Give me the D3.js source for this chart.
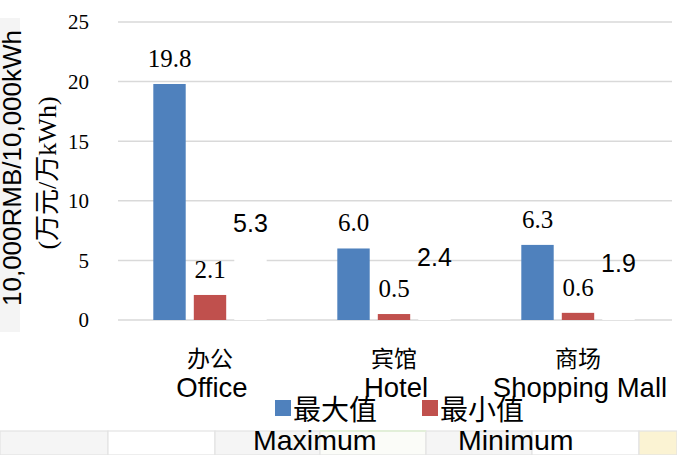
<!DOCTYPE html>
<html><head><meta charset="utf-8">
<script src="https://cdn.jsdelivr.net/npm/d3@7/dist/d3.min.js"></script>
<style>body{margin:0;background:#fff;}svg{display:block;}</style>
</head><body>
<svg id="c" width="677" height="455"></svg>
<script>
const categoriesCn = ["办公", "宾馆", "商场"];
const categoriesEn = ["Office", "Hotel", "Shopping Mall"];
const maxValues = [19.8, 6.0, 6.3];
const minValues = [2.1, 0.5, 0.6];
const ratioValues = [5.3, 2.4, 1.9];
const yTicks = [0, 5, 10, 15, 20, 25];
const seriesKeys = ["max", "min", "ratio"];
const legendCn = ["最大值", "最小值"];
const legendEn = ["Maximum", "Minimum"];
const colors = {max: "#4f81bd", min: "#c0504d", ratio: "#ffffff"};

const svg = d3.select("#c");

// background spreadsheet cells at bottom
const cells = [[0,108,"#f5f5f5"],[108,215,"#ffffff"],[215,320,"#f5f5f5"],[320,426,"#fbfcf8"],[426,532,"#f5f5f5"],[532,639,"#ffffff"],[639,677,"#fbf3d3"]];
svg.selectAll("rect.cell").data(cells).join("rect")
  .attr("x", d => d[0]).attr("y", 431).attr("width", d => d[1]-d[0]).attr("height", 24)
  .attr("fill", d => d[2]).attr("stroke", "#e3e3e3").attr("stroke-width", 1.2);
svg.append("line").attr("x1",320).attr("x2",426).attr("y1",431).attr("y2",431).attr("stroke","#e2efd9").attr("stroke-width",2);
// left gray strip behind axis title
svg.append("rect").attr("x",0).attr("y",18).attr("width",20).attr("height",314).attr("fill","#f4f4f4");

const x0 = d3.scaleBand().domain(categoriesEn).range([118, 670]).padding(0);
const x1 = d3.scaleBand().domain(seriesKeys).range([0, x0.bandwidth()]).paddingInner(0.2).paddingOuter(0.872);
const y = d3.scaleLinear().domain([0, 25]).range([320, 22]);

// gridlines
svg.append("g").selectAll("line").data(yTicks).join("line")
  .attr("x1", 118).attr("x2", 672)
  .attr("y1", d => y(d)).attr("y2", d => y(d))
  .attr("stroke", "#d9d9d9").attr("stroke-width", 1.5);

// y tick labels
const yAxis = d3.axisLeft(y).tickValues(yTicks).tickSize(0).tickPadding(0).tickFormat(d3.format("d"));
const ga = svg.append("g").attr("transform", "translate(89,0)").call(yAxis);
ga.select(".domain").remove();
ga.selectAll("text").attr("font-family", "'Liberation Serif','Times New Roman',serif").attr("font-size", 21).attr("fill", "#000").attr("dy", "0.33em");

// data
const rows = categoriesEn.map((c, i) => ({cat: c, max: maxValues[i], min: minValues[i], ratio: ratioValues[i]}));

const groups = svg.append("g").selectAll("g").data(rows).join("g")
  .attr("transform", d => `translate(${x0(d.cat)},0)`);

groups.selectAll("rect").data(d => seriesKeys.map(k => ({k, v: d[k]}))).join("rect")
  .attr("x", d => x1(d.k)).attr("width", x1.bandwidth())
  .attr("y", d => y(d.v)).attr("height", d => y(0) - y(d.v))
  .attr("fill", d => colors[d.k]);

groups.selectAll("text").data(d => seriesKeys.map(k => ({k, v: d[k]}))).join("text")
  .attr("x", d => x1(d.k) + x1.bandwidth() / 2)
  .attr("y", d => y(d.v) - (d.k === "ratio" ? 25 : 17))
  .attr("text-anchor", "middle")
  .attr("font-family", d => d.k === "ratio" ? "'Liberation Sans',Arial,sans-serif" : "'Liberation Serif','Times New Roman',serif")
  .attr("font-size", 25)
  .attr("fill", "#000")
  .text(d => d3.format(".1f")(d.v));

// category labels
const cl = svg.append("g");
cl.selectAll("text.cn").data(categoriesCn).join("text").attr("class","cn")
  .attr("x", (d, i) => x0(categoriesEn[i]) + x0.bandwidth() / 2).attr("y", 367)
  .attr("text-anchor", "middle").attr("font-family", "'Noto Sans CJK SC',sans-serif").attr("font-size", 23).attr("fill", "#000")
  .text(d => d);
cl.selectAll("text.en").data(categoriesEn).join("text").attr("class","en")
  .attr("x", d => x0(d) + x0.bandwidth() / 2 + 2).attr("y", 397)
  .attr("text-anchor", "middle").attr("font-family", "'Liberation Sans',Arial,sans-serif").attr("font-size", 27.5).attr("fill", "#000")
  .text(d => d);

// axis title
svg.append("text").attr("transform", "translate(21,168) rotate(-90)")
  .attr("text-anchor", "middle").attr("font-family", "'Liberation Sans',Arial,sans-serif").attr("font-size", 26).attr("fill", "#000")
  .text("10,000RMB/10,000kWh");
svg.append("text").attr("transform", "translate(56,173) rotate(-90)")
  .attr("text-anchor", "middle").attr("font-family", "'Liberation Serif','Noto Sans CJK SC',serif").attr("font-size", 26).attr("fill", "#000")
  .text("(万元/万kWh)");

// legend
const legendX = [275, 422];
const lg = svg.append("g");
lg.selectAll("rect").data(["max", "min"]).join("rect")
  .attr("x", (d, i) => legendX[i]).attr("y", 400).attr("width", 16).attr("height", 16).attr("fill", d => colors[d]);
lg.selectAll("text.cn").data(legendCn).join("text").attr("class","cn")
  .attr("x", (d, i) => legendX[i] + 18).attr("y", 420)
  .attr("font-family", "'Noto Sans CJK SC',sans-serif").attr("font-size", 28).attr("fill", "#000").text(d => d);
const enX = [253, 458];
lg.selectAll("text.en").data(legendEn).join("text").attr("class","en")
  .attr("x", (d, i) => enX[i]).attr("y", 450)
  .attr("font-family", "'Liberation Sans',Arial,sans-serif").attr("font-size", 28.5).attr("fill", "#000").text(d => d);
</script>
</body></html>
